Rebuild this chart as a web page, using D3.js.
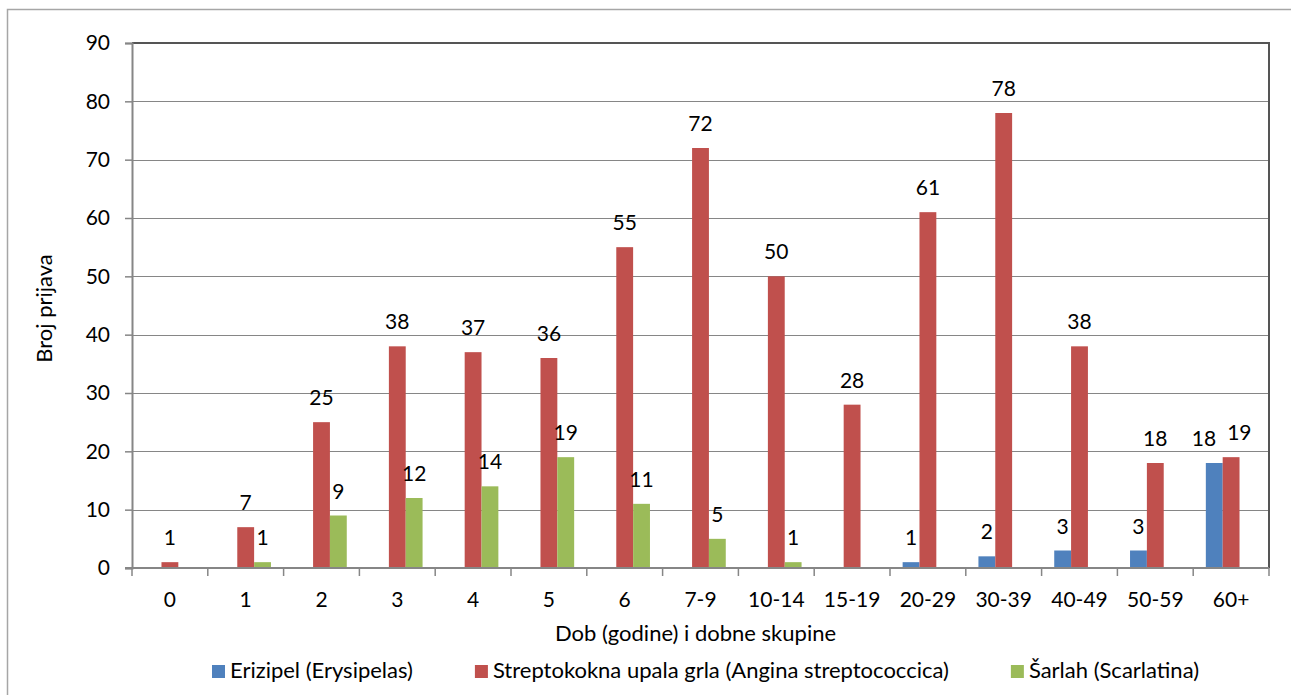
<!DOCTYPE html>
<html>
<head>
<meta charset="utf-8">
<script src="https://cdn.jsdelivr.net/npm/d3@7"></script>
<style>
  html, body { margin: 0; padding: 0; background: #fff; }
  svg text { font-family: Lato, "Open Sans", sans-serif; fill: #000; }
</style>
</head>
<body>
<svg id="chart" width="1291" height="695"></svg>
<script>
const categories = ["0","1","2","3","4","5","6","7-9","10-14","15-19","20-29","30-39","40-49","50-59","60+"];
const seriesNames = ["Erizipel (Erysipelas)", "Streptokokna upala grla (Angina streptococcica)", "Šarlah (Scarlatina)"];
const erizipel   = [0,0,0,0,0,0,0,0,0,0,1,2,3,3,18];
const streptokok = [1,7,25,38,37,36,55,72,50,28,61,78,38,18,19];
const sarlah     = [0,1,9,12,14,19,11,5,1,0,0,0,0,0,0];
const yTicks = [0,10,20,30,40,50,60,70,80,90];
const colors = ["#4F81BD", "#C0504D", "#9BBB59"];
const xTitle = "Dob (godine) i dobne skupine";
const yTitle = "Broj prijava";

const seriesValues = [erizipel, streptokok, sarlah];
const FS = 22, NFS = 21;

const svg = d3.select("#chart");
const L = 132, R = 1269, T = 43, B = 568;

// outer border
svg.append("rect").attr("x", 7.5).attr("y", 9.5).attr("width", 1300).attr("height", 700)
  .attr("fill", "none").attr("stroke", "#a6a6a6").attr("stroke-width", 1.5);

const x = d3.scaleBand().domain(categories).range([L, R]).padding(0);
const bw = x.bandwidth() / 4.5;
const xs = d3.scaleBand().domain(d3.range(3)).range([-1.5 * bw, 1.5 * bw]).padding(0);
const y = d3.scaleLinear().domain([0, 90]).range([B, T]);

// gridlines
svg.append("g").selectAll("line").data(yTicks.filter(t => t > 0 && t < 90)).join("line")
  .attr("x1", L).attr("x2", R).attr("y1", d => Math.round(y(d)) + 0.5).attr("y2", d => Math.round(y(d)) + 0.5)
  .attr("stroke", "#868686").attr("stroke-width", 1);

// plot border top & right
svg.append("path")
  .attr("d", `M${L},${y(90)}H${R}V${B}`)
  .attr("fill", "none").attr("stroke", "#555").attr("stroke-width", 2);

// bars
const barData = [];
categories.forEach((c, i) => {
  seriesValues.forEach((vals, s) => {
    barData.push({ cat: c, s, v: vals[i] });
  });
});
svg.append("g").selectAll("rect").data(barData.filter(d => d.v > 0)).join("rect")
  .attr("x", d => x(d.cat) + x.bandwidth() / 2 + xs(d.s))
  .attr("width", xs.bandwidth())
  .attr("y", d => y(d.v))
  .attr("height", d => y(0) - y(d.v))
  .attr("fill", d => colors[d.s]);

// y axis
const yAxis = d3.axisLeft(y).tickValues(yTicks).tickSize(7).tickPadding(15).tickFormat(d3.format("d"));
const gy = svg.append("g").attr("transform", `translate(${L},0)`).call(yAxis);
gy.select(".domain").attr("stroke", "#868686").attr("stroke-width", 2);
gy.selectAll(".tick line").attr("stroke", "#868686").attr("stroke-width", 1.5);
gy.selectAll(".tick text").attr("font-size", NFS).attr("font-family", "Lato").attr("fill", "#000");

// x axis
const xAxis = d3.axisBottom(x).tickSize(0).tickPadding(0);
const gx = svg.append("g").attr("transform", `translate(0,${B})`).call(xAxis);
gx.select(".domain").remove();
gx.append("line").attr("x1", L - 7).attr("x2", R).attr("y1", 0).attr("y2", 0)
  .attr("stroke", "#868686").attr("stroke-width", 2);
gx.selectAll(".tick text").attr("font-size", NFS).attr("font-family", "Lato").attr("fill", "#000")
  .attr("y", 39).attr("dy", 0);
// category boundary ticks
const bounds = categories.map(c => x(c)).concat([R]);
gx.append("g").selectAll("line").data(bounds).join("line")
  .attr("x1", d => d).attr("x2", d => d).attr("y1", 0).attr("y2", 8)
  .attr("stroke", "#868686").attr("stroke-width", 1.5);

// data labels
const lblG = svg.append("g");
categories.forEach((c, i) => {
  const items = [];
  seriesValues.forEach((vals, s) => {
    const v = vals[i];
    if (v > 0) {
      const cx = x(c) + x.bandwidth() / 2 + xs(s) + xs.bandwidth() / 2;
      const t = lblG.append("text").attr("x", cx).attr("y", y(v) - 17)
        .attr("text-anchor", "middle").attr("font-size", NFS).text(v);
      items.push({ t, cx, by: y(v) - 17, w: t.node().getComputedTextLength() });
    }
  });
  for (let k = 0; k < items.length - 1; k++) {
    const a = items[k], b = items[k + 1];
    const vOverlap = Math.abs(a.by - b.by) < 16;
    const need = (a.w + b.w) / 2 + 11;
    const dist = b.cx - a.cx;
    if (vOverlap && dist < need) {
      const d = (need - dist) / 2;
      a.t.attr("x", a.cx - d - 1);
      b.t.attr("x", b.cx + d - 1);
    }
  }
});

// axis titles
svg.append("text").attr("x", (L + R) / 2 - 5).attr("y", 641).attr("text-anchor", "middle")
  .attr("font-size", FS).text(xTitle);
svg.append("text").attr("transform", `translate(52,${(T + B) / 2 + 3}) rotate(-90)`)
  .attr("text-anchor", "middle").attr("font-size", FS).text(yTitle);

// legend
const lg = svg.append("g").attr("transform", "translate(212,678)");
let cur = 0;
seriesNames.forEach((n, i) => {
  const g = lg.append("g").attr("transform", `translate(${cur},0)`);
  g.append("rect").attr("x", 0).attr("y", -13).attr("width", 13).attr("height", 13).attr("fill", colors[i]);
  const t = g.append("text").attr("x", 18).attr("y", 0).attr("font-size", FS).text(n);
  cur += 18 + t.node().getComputedTextLength() + 62;
});
</script>
</body>
</html>
